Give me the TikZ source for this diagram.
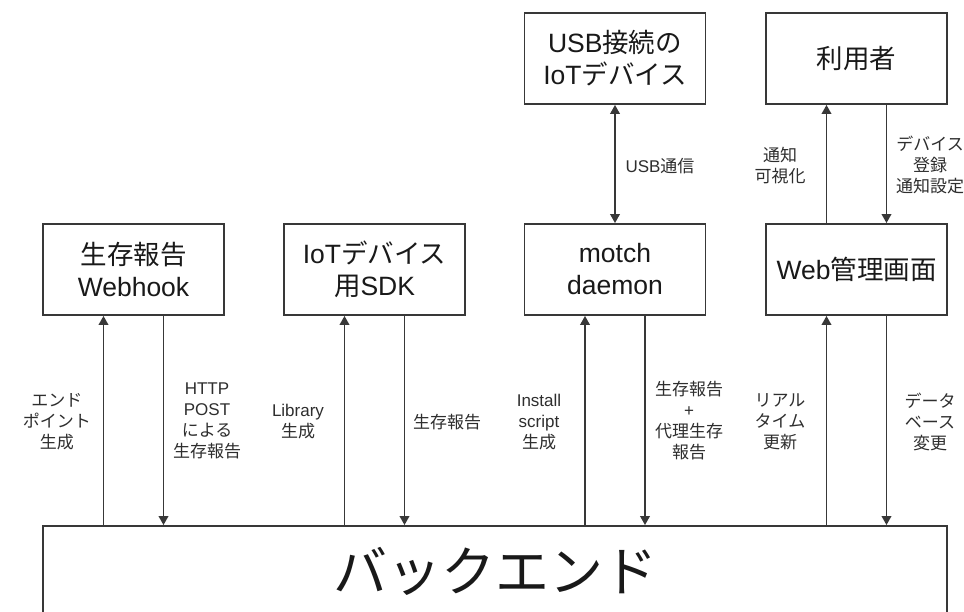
\documentclass[tikz,border=0pt]{standalone}
\usepackage{fontspec}
\setmainfont{Liberation Sans}
\newfontfamily\jpf{Noto Sans CJK JP}
\newcommand{\J}[1]{{\jpf #1}}
\usetikzlibrary{arrows.meta,calc}
\begin{document}
\begin{tikzpicture}[x=1pt,y=-1pt,
  box/.style={draw=black!78, line width=1.8pt, minimum width=181pt, minimum height=91pt, inner sep=0pt, align=center, font=\fontsize{26.5}{32}\selectfont, text=black!90},
  lbl/.style={align=center, font=\fontsize{17}{21}\selectfont, text=black!82, inner sep=0pt},
  conn/.style={draw=black!78, line width=1.8pt},
  tip/.style={-{Triangle[length=9pt,width=9.5pt]}},
  dtip/.style={{Triangle[length=9pt,width=9.5pt]}-{Triangle[length=9pt,width=9.5pt]}}
]
\clip (0,0) rectangle (964,612);
\fill[white] (0,0) rectangle (964,612);
% boxes
\node[box] (usb) at (615,58.5) {USB\J{接続の}\\IoT\J{デバイス}};
\node[box] (user) at (856.5,58.5) {\J{利用者}};
\node[box] (wh) at (133.5,269.5) {\J{生存報告}\\Webhook};
\node[box] (sdk) at (374.5,269.5) {IoT\J{デバイス}\\\J{用}SDK};
\node[box] (motch) at (615,269.5) {motch\\daemon};
\node[box] (web) at (856.5,269.5) {Web\J{管理画面}};
\node[box, minimum width=904pt, minimum height=90pt, font=\jpf\fontsize{54}{60}\selectfont] (be) at (495,571) {バックエンド};
% arrows webhook
\draw[conn,tip] ($(wh.south |- be.north)+(-30,0)$) -- ($(wh.south)+(-30,0)$);
\draw[conn,tip] ($(wh.south)+(30,0)$) -- ($(wh.south |- be.north)+(30,0)$);
% sdk
\draw[conn,tip] ($(sdk.south |- be.north)+(-30,0)$) -- ($(sdk.south)+(-30,0)$);
\draw[conn,tip] ($(sdk.south)+(30,0)$) -- ($(sdk.south |- be.north)+(30,0)$);
% motch
\draw[conn,tip] ($(motch.south |- be.north)+(-30,0)$) -- ($(motch.south)+(-30,0)$);
\draw[conn,tip] ($(motch.south)+(30,0)$) -- ($(motch.south |- be.north)+(30,0)$);
% web
\draw[conn,tip] ($(web.south |- be.north)+(-30,0)$) -- ($(web.south)+(-30,0)$);
\draw[conn,tip] ($(web.south)+(30,0)$) -- ($(web.south |- be.north)+(30,0)$);
% usb
\draw[conn,dtip] (usb.south) -- (motch.north);
% user
\draw[conn,tip] ($(web.north)+(-30,0)$) -- ($(user.south)+(-30,0)$);
\draw[conn,tip] ($(user.south)+(30,0)$) -- ($(web.north)+(30,0)$);
% labels
\node[lbl] (l1) at (57,422) {\J{エンド}\\\J{ポイント}\\\J{生成}};
\node[lbl] (l2) at (207,421) {HTTP\\POST\\\J{による}\\\J{生存報告}};
\node[lbl] (l3) at (298,422) {Library\\\J{生成}};
\node[lbl] (l4) at (447,422) {\J{生存報告}};
\node[lbl] (l5) at (539,422) {Install\\script\\\J{生成}};
\node[lbl] (l6) at (689,421) {\J{生存報告}\\+\\\J{代理生存}\\\J{報告}};
\node[lbl] (l7) at (780,422) {\J{リアル}\\\J{タイム}\\\J{更新}};
\node[lbl] (l8) at (930,422) {\J{データ}\\\J{ベース}\\\J{変更}};
\node[lbl] (l9) at (660,166) {USB\J{通信}};
\node[lbl] (l10) at (780,166) {\J{通知}\\\J{可視化}};
\node[lbl] (l11) at (930,165) {\J{デバイス}\\\J{登録}\\\J{通知設定}};
\end{tikzpicture}
\end{document}
